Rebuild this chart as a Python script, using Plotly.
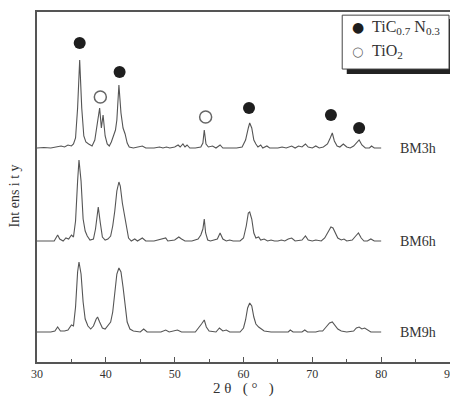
import plotly.graph_objects as go

# ---------------- data ----------------
series_names = ["BM3h", "BM6h", "BM9h"]
baselines = [214, 121, 30]

two_theta_3h = [30.0, 31, 32, 33, 33.5, 34, 34.5, 35, 35.3, 35.6, 35.9, 36.2, 36.5, 36.8, 37.1, 37.5, 38, 38.4,
                38.8, 39.1, 39.35, 39.6, 39.9, 40.2, 40.5, 40.8, 41.1, 41.4, 41.6, 41.9, 42.2, 42.5, 42.8, 43.1,
                43.4, 44, 45.3, 45.8, 47, 47.8, 48.3, 48.8, 49.3, 50, 50.5, 50.8, 51.2, 51.5, 51.8, 52.2, 53,
                53.8, 54.1, 54.3, 54.55, 54.9, 55.5, 56, 56.6, 57, 58, 59, 59.8, 60.3, 60.7, 60.9, 61.2, 61.5,
                61.8, 62.1, 62.5, 62.8, 63.4, 63.8, 65, 65.6, 66.2, 67, 67.5, 68, 68.5, 69, 69.4, 70, 70.5, 71,
                71.6, 72.2, 72.6, 72.9, 73.2, 73.6, 74, 74.5, 75, 75.5, 76, 76.5, 76.8, 77.2, 77.7, 78.3, 78.6,
                79, 80]
intensity_3h = [0, 0.5, 0, 1, 2, 1, 3, 2, 4, 10, 40, 88, 40, 12, 6, 4, 2, 8,
                25, 40, 20, 33, 12, 4, 2, 6, 12, 18, 28, 63, 35, 20, 14, 5,
                1, 0, 2, 0, 0, 1, 0, 1, 0, 1, 3, 1, 4, 1, 3, 0, 0,
                1, 5, 18, 4, 1, 2, 0, 3, 0, 0, 0, 1, 8, 20, 25, 20, 8,
                4, 1, 3, 0, 2, 0, 0, 1, 0, 2, 0, 2, 1, 4, 1, 0, 2, 0,
                1, 4, 10, 15, 7, 2, 1, 4, 1, 0, 2, 6, 8, 3, 0, 0, 2,
                0, 0]

two_theta_6h = [30, 31.5, 32.5, 33, 33.3, 33.8, 34.2, 34.6, 35, 35.3, 35.6, 35.9, 36.1, 36.4, 36.7, 37, 37.3,
                37.7, 38.2, 38.5, 38.9, 39.2, 39.5, 39.9, 40.3, 40.7, 41.0, 41.3, 41.6, 41.9, 42.1, 42.4, 42.7,
                43.0, 43.3, 43.7, 44.2, 44.6, 45.3, 45.8, 47, 48.7, 49, 50, 50.6, 51, 51.5, 52.5, 53.4, 53.8,
                54.1, 54.3, 54.5, 54.8, 55.2, 56.2, 56.6, 57, 57.5, 58, 58.5, 59.5, 60, 60.4, 60.7, 60.9, 61.2,
                61.5, 61.8, 62.2, 62.5, 63, 63.5, 64, 64.5, 65, 65.5, 66, 66.5, 67, 67.5, 68.5, 69, 69.4, 70,
                70.5, 71.3, 71.8, 72.3, 72.7, 73.0, 73.3, 73.7, 74.2, 74.6, 75, 75.8, 76.3, 76.7, 77.1, 77.5,
                78, 78.5, 79, 80]
intensity_6h = [0, 0, 0, 6, 2, 0, 3, 2, 6, 4, 20, 60, 81, 60, 22, 10, 5,
                1, 2, 12, 34, 18, 4, 1, 2, 5, 15, 30, 50, 59, 55, 38, 25,
                12, 3, 0, 2, 0, 3, 0, 0, 3, 0, 1, 4, 2, 0, 0, 2, 6,
                12, 22, 8, 1, 0, 2, 8, 2, 0, 1, 0, 0, 3, 15, 28, 29, 22,
                8, 3, 4, 1, 2, 0, 1, 0, 0, 1, 0, 2, 3, 0, 1, 5, 1, 0,
                1, 0, 3, 9, 14, 13, 8, 3, 1, 2, 0, 1, 5, 8, 3, 0,
                0, 2, 0, 0]

two_theta_9h = [30, 32, 32.6, 33, 33.4, 34, 34.5, 35, 35.3, 35.6, 35.9, 36.1, 36.4, 36.7, 37.0, 37.4, 37.8,
                38.2, 38.6, 38.8, 39.1, 39.5, 39.9, 40.3, 40.7, 41.0, 41.3, 41.6, 41.9, 42.2, 42.5, 42.8, 43.1,
                43.5, 44, 45, 45.5, 46, 48, 48.7, 49.2, 50.4, 51, 53, 53.5, 53.9, 54.3, 54.6, 55, 56, 56.5,
                57, 57.5, 58, 59.5, 60, 60.3, 60.6, 60.9, 61.2, 61.5, 61.8, 62.2, 62.6, 63, 64, 66.5, 66.8,
                67.2, 68.5, 68.9, 69.3, 70.5, 71, 71.5, 72, 72.5, 72.9, 73.3, 73.7, 74.2, 75, 76, 76.4, 76.8,
                77.2, 77.6, 78, 78.5, 79, 80]
intensity_9h = [0, 0, 1, 5, 1, 1, 2, 7, 6, 25, 60, 70, 58, 30, 13, 6, 3,
                6, 13, 15, 10, 4, 3, 6, 10, 20, 40, 58, 64, 60, 45, 25, 10,
                3, 1, 0, 3, 0, 0, 2, 0, 2, 0, 0, 4, 8, 12, 5, 1, 0, 4,
                1, 2, 0, 0, 4, 12, 24, 29, 26, 15, 8, 5, 3, 1, 0, 0, 2,
                0, 0, 2, 0, 0, 1, 1, 5, 9, 10, 6, 3, 1, 0, 1, 4, 5,
                3, 4, 2, 0, 0, 0]

tic_peak_x = [36.2, 42.0, 60.8, 72.7, 76.8]
tic_marker_y = [319, 290, 254, 247, 234]
tio2_peak_x = [39.2, 54.5]
tio2_marker_y = [265, 245]

x_tick_vals = [30, 40, 50, 60, 70, 80, 90]

# ---------------- figure ----------------
FONT = "Liberation Serif"
TXT = "#333333"
LINE = "#555555"
NB = "\u00a0"

fig = go.Figure()
all_x = [two_theta_3h, two_theta_6h, two_theta_9h]
all_y = [intensity_3h, intensity_6h, intensity_9h]
for name, xs, ys, base in zip(series_names, all_x, all_y, baselines):
    fig.add_trace(go.Scatter(x=xs, y=[v + base for v in ys], mode="lines",
                             line=dict(color=LINE, width=1.1), name=name,
                             showlegend=False, hoverinfo="skip"))
    fig.add_annotation(x=82.5, y=base, xref="x", yref="y", text=name, showarrow=False,
                       xanchor="left", yanchor="middle",
                       font=dict(family=FONT, size=14, color=TXT))

fig.add_trace(go.Scatter(x=tic_peak_x, y=tic_marker_y, mode="markers",
                         marker=dict(symbol="circle", size=12, color="#1e1e1e"),
                         showlegend=False, hoverinfo="skip"))
fig.add_trace(go.Scatter(x=tio2_peak_x, y=tio2_marker_y, mode="markers",
                         marker=dict(symbol="circle-open", size=12, color="#666666",
                                     line=dict(width=1.5, color="#666666")),
                         showlegend=False, hoverinfo="skip"))

# legend box with shadow
fig.add_shape(type="rect", xref="paper", yref="paper", x0=0.75, x1=1.01, y0=0.823, y1=0.98,
              line=dict(width=0), fillcolor="#222222", layer="above")
fig.add_shape(type="rect", xref="paper", yref="paper", x0=0.739, x1=0.9976, y0=0.837, y1=0.991,
              line=dict(width=1, color="#444444"), fillcolor="white", layer="above")
fig.add_annotation(x=0.778, y=0.957, xref="paper", yref="paper", text="●", showarrow=False,
                   xanchor="center", yanchor="middle", font=dict(family="DejaVu Sans", size=14, color="#1e1e1e"))
fig.add_annotation(x=0.776, y=0.888, xref="paper", yref="paper", text="○", showarrow=False,
                   xanchor="center", yanchor="middle", font=dict(family="DejaVu Sans", size=13, color="#666666"))
fig.add_annotation(x=0.806, y=0.957, xref="paper", yref="paper",
                   text="TiC<sub>0.7</sub> N<sub>0.3</sub>", showarrow=False,
                   xanchor="left", yanchor="middle", font=dict(family=FONT, size=16, color=TXT))
fig.add_annotation(x=0.806, y=0.888, xref="paper", yref="paper",
                   text="TiO<sub>2</sub>", showarrow=False,
                   xanchor="left", yanchor="middle", font=dict(family=FONT, size=16, color=TXT))

# axis titles
fig.add_annotation(x=0.499, y=-0.075, xref="paper", yref="paper",
                   text="2" + NB + "θ" + NB * 3 + "(" + NB + "°" + NB * 3 + ")", showarrow=False,
                   xanchor="center", yanchor="middle", font=dict(family=FONT, size=15, color=TXT))
fig.add_annotation(x=-0.055, y=0.474, xref="paper", yref="paper", textangle=-90,
                   text="Int" + NB + "ens" + NB + "i" + NB + "t" + NB + "y", showarrow=False,
                   xanchor="center", yanchor="middle", font=dict(family=FONT, size=14, color=TXT))

# the page body adds an 8 px offset, so the figure is sized/margined to compensate
fig.update_layout(
    width=450, height=391,
    margin=dict(l=29, r=8, t=4, b=37, autoexpand=False),
    paper_bgcolor="white", plot_bgcolor="white",
    font=dict(family=FONT, color=TXT),
    showlegend=False,
    xaxis=dict(range=[30, 90], tickvals=x_tick_vals, ticks="inside", ticklen=5, tickwidth=1.2,
               tickcolor=LINE, showline=True, linecolor=LINE, linewidth=1.5, mirror=True,
               showgrid=False, zeroline=False, automargin=False,
               tickfont=dict(family=FONT, size=12, color=TXT),
               minor=dict(dtick=5, tick0=30, ticks="inside", ticklen=3, tickcolor=LINE, showgrid=False)),
    yaxis=dict(range=[0, 350], showticklabels=False, ticks="", showline=True, linecolor=LINE,
               linewidth=1.5, mirror=True, showgrid=False, zeroline=False, automargin=False),
)

fig.write_html("out.html")
